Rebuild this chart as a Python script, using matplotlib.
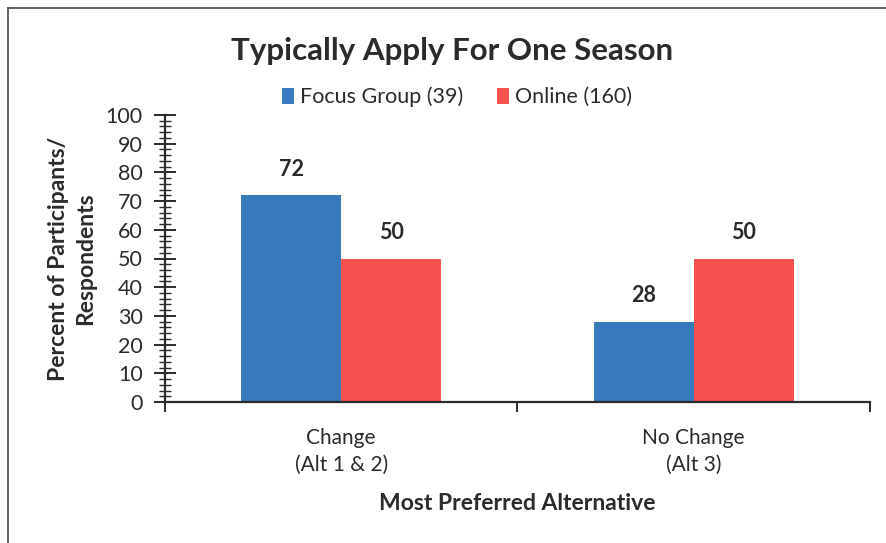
import matplotlib
matplotlib.use("Agg")
import matplotlib.pyplot as plt
from matplotlib.lines import Line2D
from matplotlib.ticker import MultipleLocator
import numpy as np

categories = ["Change\n(Alt 1 & 2)", "No Change\n(Alt 3)"]
series_names = ["Focus Group (39)", "Online (160)"]
focus_group = [72, 28]
online = [50, 50]
colors = ["#377bbd", "#f4514f"]

plt.rcParams['font.family'] = ['Lato', 'DejaVu Sans']
text_color = "#2b2b2b"

fig = plt.figure(figsize=(8.87, 5.43), dpi=100)
fig.patch.set_facecolor("white")
W, H = 887, 543
ax = fig.add_axes([165 / W, 1 - 402 / H, (870 - 165) / W, (402 - 115) / H])

x = np.arange(len(categories))
bw = 0.284
b1 = ax.bar(x - bw / 2, focus_group, bw, color=colors[0], label=series_names[0])
b2 = ax.bar(x + bw / 2, online, bw, color=colors[1], label=series_names[1])
for bars in (b1, b2):
    for r in bars:
        ax.annotate(f"{r.get_height():g}", (r.get_x() + r.get_width() / 2, r.get_height()),
                    xytext=(0, 11), textcoords="offset points", ha="center", va="bottom",
                    fontsize=15.5, fontweight="bold", color=text_color)

ax.set_xlim(-0.5, 1.5)
ax.set_ylim(0, 100)
ax.yaxis.set_major_locator(MultipleLocator(10))
ax.yaxis.set_minor_locator(MultipleLocator(2))
ax.tick_params(axis="y", which="major", direction="inout", length=16, width=1.4,
               labelsize=15.5, colors=text_color, pad=8)
ax.tick_params(axis="y", which="minor", direction="inout", length=8, width=1.0, colors=text_color)
ax.set_xticks([-0.5, 0.5, 1.5])
ax.set_xticklabels(["", "", ""])
ax.tick_params(axis="x", which="major", direction="out", length=7, width=1.4, colors=text_color)
for i, c in enumerate(categories):
    ax.text(i, -9, c, ha="center", va="top", fontsize=15, color=text_color,
            linespacing=1.45, transform=ax.transData, clip_on=False)

for s in ["top", "right"]:
    ax.spines[s].set_visible(False)
for s in ["left", "bottom"]:
    ax.spines[s].set_linewidth(1.6)
    ax.spines[s].set_color(text_color)

ax.set_ylabel("Percent of Participants/\nRespondents", fontsize=16.5, fontweight="bold",
              color=text_color, linespacing=1.35)
ax.yaxis.set_label_coords(-0.098, 0.5)

fig.text(452 / W, 1 - 51 / H, "Typically Apply For One Season", ha="center", va="center",
         fontsize=22.5, fontweight="bold", color=text_color)
fig.text(517 / W, 1 - 503 / H, "Most Preferred Alternative", ha="center", va="center",
         fontsize=16.5, fontweight="bold", color=text_color)

leg = fig.legend(handles=[b1, b2], labels=series_names, loc="center", ncol=2,
                 bbox_to_anchor=(457 / W, 1 - 97 / H), frameon=False, fontsize=15.5,
                 handlelength=0.55, handleheight=0.75, handletextpad=0.25, columnspacing=1.6)
for t in leg.get_texts():
    t.set_color(text_color)

fig.add_artist(Line2D([8 / W, 8 / W], [0, 1 - 8 / H], transform=fig.transFigure,
                      color="#555555", lw=1.3))
fig.add_artist(Line2D([8 / W, 1], [1 - 8 / H, 1 - 8 / H], transform=fig.transFigure,
                      color="#555555", lw=1.3))

fig.savefig("out.png", dpi=100)
